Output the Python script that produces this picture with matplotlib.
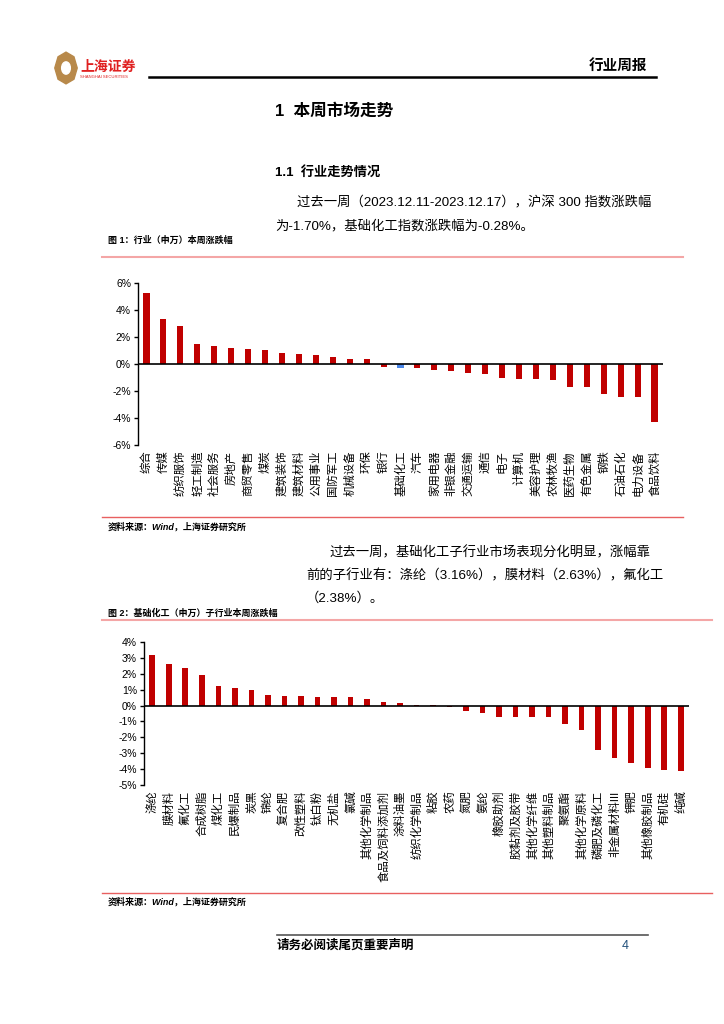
import matplotlib.pyplot as plt
import matplotlib.patches as mpatches
import numpy as np

plt.rcParams['font.family'] = ['Liberation Sans', 'Noto Sans CJK SC']
plt.rcParams['axes.unicode_minus'] = False

# chart 1 data: SW industries weekly change (%)
industries = ['综合', '传媒', '纺织服饰', '轻工制造', '社会服务', '房地产', '商贸零售', '煤炭',
              '建筑装饰', '建筑材料', '公用事业', '国防军工', '机械设备', '环保', '银行', '基础化工',
              '汽车', '家用电器', '非银金融', '交通运输', '通信', '电子', '计算机', '美容护理',
              '农林牧渔', '医药生物', '有色金属', '钢铁', '石油石化', '电力设备', '食品饮料']
industry_chg = [5.26, 3.33, 2.79, 1.48, 1.36, 1.16, 1.11, 1.06,
                0.79, 0.74, 0.69, 0.54, 0.40, 0.37, -0.25, -0.28,
                -0.30, -0.44, -0.54, -0.67, -0.74, -1.04, -1.11, -1.14,
                -1.21, -1.68, -1.70, -2.25, -2.44, -2.44, -4.32]
highlight = '基础化工'

# chart 2 data: basic chemicals sub-industries weekly change (%)
sub_industries = ['涤纶', '膜材料', '氟化工', '合成树脂', '煤化工', '民爆制品', '炭黑', '锦纶',
                  '复合肥', '改性塑料', '钛白粉', '无机盐', '氯碱', '其他化学制品', '食品及饲料添加剂',
                  '涂料油墨', '纺织化学制品', '粘胶', '农药', '氮肥', '氨纶', '橡胶助剂', '胶黏剂及胶带',
                  '其他化学纤维', '其他塑料制品', '聚氨酯', '其他化学原料', '磷肥及磷化工', '非金属材料III',
                  '钾肥', '其他橡胶制品', '有机硅', '纯碱']
sub_chg = [3.16, 2.63, 2.38, 1.91, 1.22, 1.09, 0.96, 0.65,
           0.59, 0.57, 0.55, 0.52, 0.52, 0.40, 0.23,
           0.17, 0.02, 0.01, -0.06, -0.34, -0.48, -0.71, -0.71,
           -0.71, -0.75, -1.15, -1.55, -2.79, -3.27,
           -3.63, -3.96, -4.07, -4.13]

W, H = 724, 1024
fig = plt.figure(figsize=(W / 100, H / 100), dpi=100)
RED = '#C00000'


def fx(x):
    return x / W


def fy(y):
    return 1 - y / H


def txt(x, y, s, **kw):
    fig.text(fx(x), fy(y), s, **kw)


def hline(x0, x1, y, color, lw):
    fig.add_artist(plt.Line2D([fx(x0), fx(x1)], [fy(y), fy(y)], color=color, lw=lw,
                              transform=fig.transFigure))


# header
logo = mpatches.RegularPolygon((fx(66), fy(68)), numVertices=8, radius=0.0155,
                               transform=fig.transFigure, color='#B8894A')
fig.add_artist(logo)
fig.add_artist(mpatches.Circle((fx(66), fy(68)), 0.006, transform=fig.transFigure, color='white'))
txt(80, 67, '上海证券', fontsize=10, color='#E02020', fontweight='bold', va='center')
txt(80, 77, 'SHANGHAI SECURITIES', fontsize=3, color='#E02020', va='center')
hline(149, 656, 77, 'black', 1.8)
txt(647, 66, '行业周报', fontsize=10.5, fontweight='bold', ha='right', va='center')

txt(275, 111, '1  本周市场走势', fontsize=12, fontweight='bold', va='center')
txt(275, 172, '1.1  行业走势情况', fontsize=9.5, fontweight='bold', va='center')
txt(297, 203, '过去一周（2023.12.11-2023.12.17），沪深 300 指数涨跌幅', fontsize=9.6, va='center')
txt(275, 226, '为-1.70%，基础化工指数涨跌幅为-0.28%。', fontsize=9.6, va='center')

txt(108, 240, '图 1：行业（申万）本周涨跌幅', fontsize=6.5, fontweight='bold', va='center')
hline(102, 683, 257, '#F4A6A6', 1.5)

# chart 1
ax1 = fig.add_axes([fx(138), fy(445), fx(663) - fx(138), fy(283) - fy(445)])
x1 = np.arange(len(industries))
colors1 = ['#4A86E8' if n == highlight else RED for n in industries]
ax1.bar(x1, industry_chg, width=0.36, color=colors1)
ax1.axhline(0, color='black', lw=1.2)
ax1.set_xlim(-0.5, len(industries) - 0.5)
ax1.set_ylim(-6, 6)
ax1.set_yticks(np.arange(-6, 7, 2))
ax1.set_yticklabels([f'{v}%' for v in range(-6, 7, 2)], fontsize=7.5)
ax1.set_xticks(x1)
ax1.set_xticklabels(industries, rotation=90, fontsize=8.2, va='top', ha='center')

hline(102, 683, 517, '#E86060', 1.0)
txt(108, 527, '资料来源：Wind，上海证券研究所', fontsize=6.5, fontweight='bold', style='italic', va='center')

txt(330, 553, '过去一周，基础化工子行业市场表现分化明显，涨幅靠', fontsize=9.6, va='center')
txt(306, 576, '前的子行业有：涤纶（3.16%），膜材料（2.63%），氟化工', fontsize=9.6, va='center')
txt(306, 598, '（2.38%）。', fontsize=9.6, va='center')

txt(108, 613, '图 2：基础化工（申万）子行业本周涨跌幅', fontsize=6.5, fontweight='bold', va='center')
hline(102, 712, 620, '#F4A6A6', 1.5)

# chart 2
ax2 = fig.add_axes([fx(144), fy(785), fx(689) - fx(144), fy(642) - fy(785)])
x2 = np.arange(len(sub_industries))
ax2.bar(x2, sub_chg, width=0.34, color=RED)
ax2.axhline(0, color='black', lw=1.2)
ax2.set_xlim(-0.5, len(sub_industries) - 0.5)
ax2.set_ylim(-5, 4)
ax2.set_yticks(np.arange(-5, 5, 1))
ax2.set_yticklabels([f'{v}%' for v in range(-5, 5)], fontsize=7.5)
ax2.set_xticks(x2)
ax2.set_xticklabels(sub_industries, rotation=90, fontsize=8.2, va='top', ha='center')

for ax in (ax1, ax2):
    for side in ('top', 'right', 'bottom'):
        ax.spines[side].set_visible(False)
    ax.spines['left'].set_linewidth(1.0)
    ax.tick_params(axis='y', direction='out', length=3, width=1, pad=2)
    ax.tick_params(axis='x', length=0, pad=4)
    ax.patch.set_alpha(0)

hline(102, 712, 893, '#E86060', 1.0)
txt(108, 902, '资料来源：Wind，上海证券研究所', fontsize=6.5, fontweight='bold', style='italic', va='center')

# footer
hline(277, 648, 935, '#555555', 1.2)
txt(277, 946, '请务必阅读尾页重要声明', fontsize=9, fontweight='bold', va='center')
txt(622, 946, '4', fontsize=9, color='#1F4E79', va='center')

fig.savefig('out.png', dpi=100)
